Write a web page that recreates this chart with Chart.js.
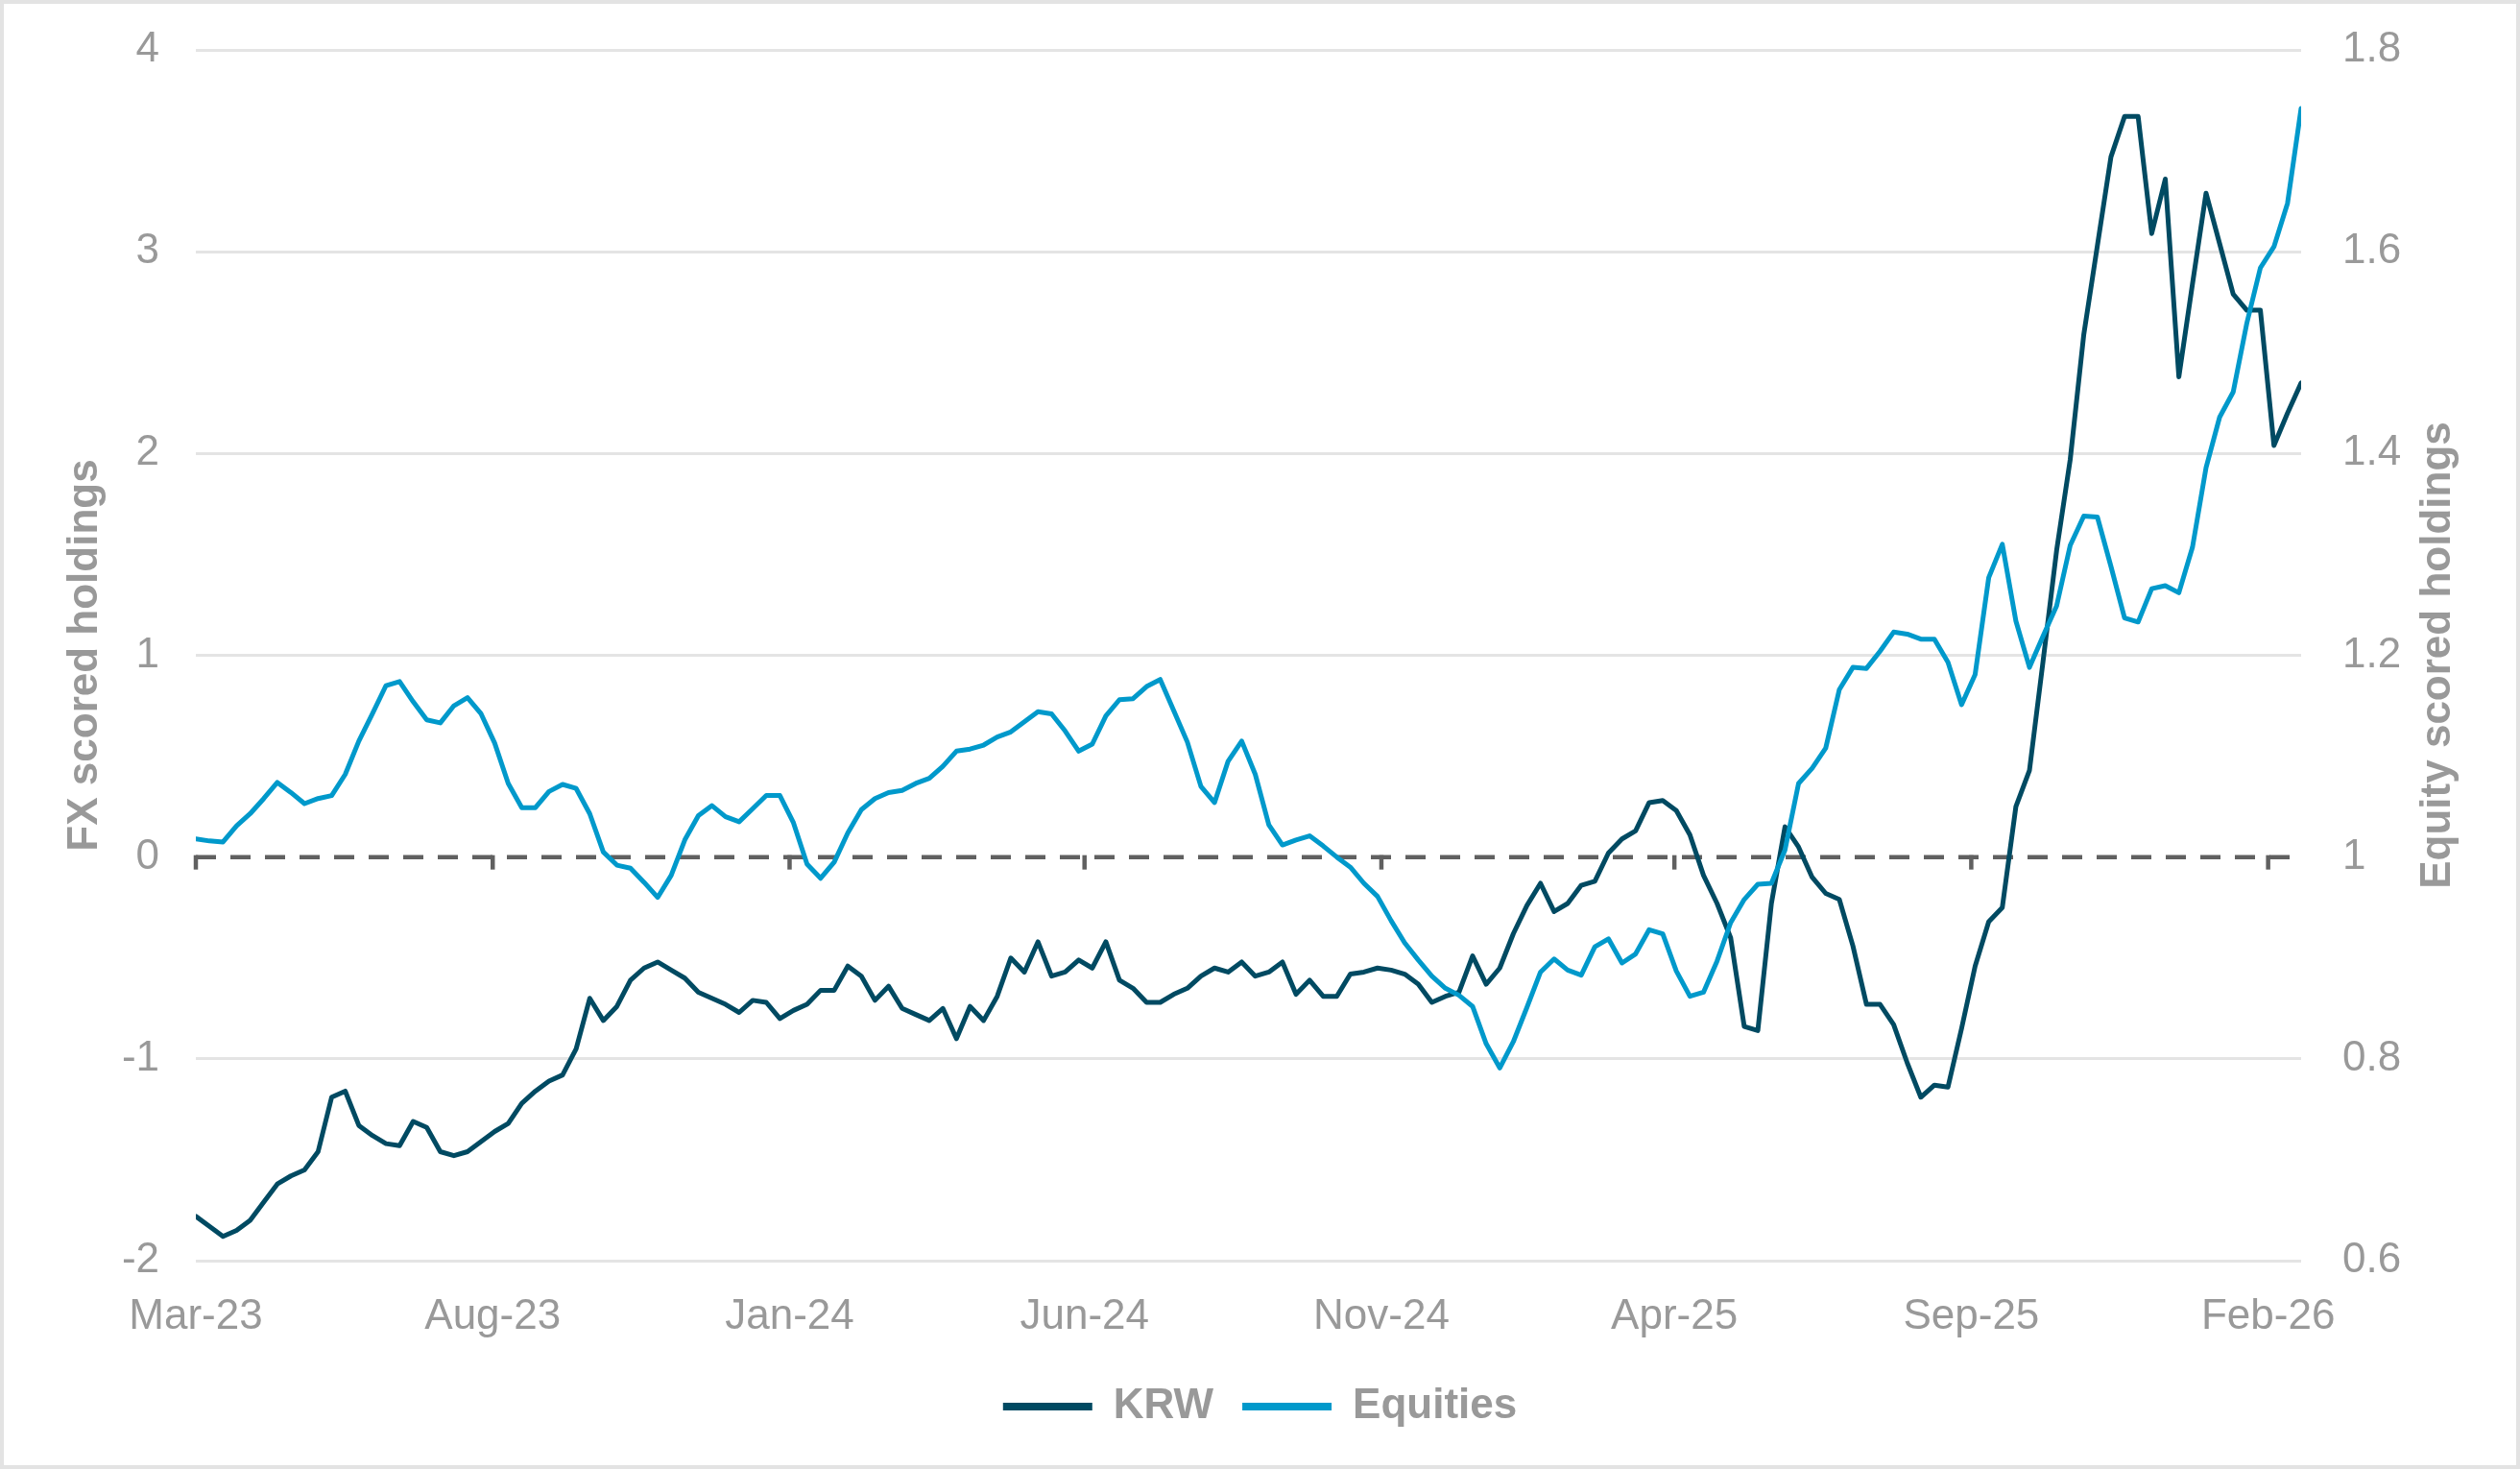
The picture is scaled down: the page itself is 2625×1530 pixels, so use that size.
<!DOCTYPE html>
<html>
<head>
<meta charset="utf-8">
<script src="https://cdn.jsdelivr.net/npm/chart.js@4.4.1/dist/chart.umd.min.js"></script>
<style>
    html, body { margin: 0; padding: 0; background: #fff; }
    #wrap { width: 2625px; height: 1530px; position: relative; }
</style>
</head>
<body>
<div id="wrap"><canvas id="chart"></canvas></div>
<script>
// --- Data (weekly, first observation 1 Mar 2023) ---

const firstWeek = "2023-03-01";

// FX scored holdings (left axis)
const krw = [
    -1.78, -1.83, -1.88, -1.85, -1.80, -1.71, -1.62, -1.58, -1.55, -1.46,
    -1.19, -1.16, -1.33, -1.38, -1.42, -1.43, -1.31, -1.34, -1.46, -1.48,
    -1.46, -1.41, -1.36, -1.32, -1.22, -1.16, -1.11, -1.08, -0.95, -0.70,
    -0.81, -0.74, -0.61, -0.55, -0.52, -0.56, -0.60, -0.67, -0.70, -0.73,
    -0.77, -0.71, -0.72, -0.80, -0.76, -0.73, -0.66, -0.66, -0.54, -0.59,
    -0.71, -0.64, -0.75, -0.78, -0.81, -0.75, -0.90, -0.74, -0.81, -0.69,
    -0.50, -0.57, -0.42, -0.59, -0.57, -0.51, -0.55, -0.42, -0.61, -0.65,
    -0.72, -0.72, -0.68, -0.65, -0.59, -0.55, -0.57, -0.52, -0.59, -0.57,
    -0.52, -0.68, -0.61, -0.69, -0.69, -0.58, -0.57, -0.55, -0.56, -0.58,
    -0.63, -0.72, -0.69, -0.67, -0.49, -0.63, -0.55, -0.38, -0.24, -0.13,
    -0.27, -0.23, -0.14, -0.12, 0.02, 0.09, 0.13, 0.27, 0.28, 0.23,
    0.11, -0.09, -0.23, -0.40, -0.84, -0.86, -0.23, 0.15, 0.05, -0.10,
    -0.18, -0.21, -0.44, -0.73, -0.73, -0.83, -1.02, -1.19, -1.13, -1.14,
    -0.85, -0.54, -0.32, -0.25, 0.25, 0.43, 0.97, 1.52, 1.97, 2.59,
    3.03, 3.47, 3.67, 3.67, 3.09, 3.36, 2.38, 2.84, 3.29, 3.04,
    2.79, 2.71, 2.71, 2.04, 2.20, 2.35
];

// Equity scored holdings (right axis)
const equities = [
    1.018, 1.016, 1.015, 1.031, 1.043, 1.058, 1.074, 1.064, 1.053, 1.058,
    1.061, 1.082, 1.115, 1.142, 1.170, 1.174, 1.154, 1.136, 1.133, 1.150,
    1.158, 1.142, 1.113, 1.073, 1.049, 1.049, 1.065, 1.072, 1.068, 1.043,
    1.005, 0.992, 0.989, 0.975, 0.960, 0.982, 1.017, 1.041, 1.051, 1.040,
    1.035, 1.048, 1.061, 1.061, 1.034, 0.993, 0.979, 0.995, 1.024, 1.047,
    1.058, 1.064, 1.066, 1.073, 1.078, 1.090, 1.105, 1.107, 1.111, 1.119,
    1.124, 1.134, 1.144, 1.142, 1.125, 1.105, 1.112, 1.140, 1.156, 1.157,
    1.169, 1.176, 1.145, 1.114, 1.070, 1.054, 1.095, 1.115, 1.082, 1.032,
    1.012, 1.017, 1.021, 1.011, 1.000, 0.990, 0.974, 0.961, 0.937, 0.915,
    0.898, 0.882, 0.870, 0.863, 0.852, 0.815, 0.791, 0.817, 0.851, 0.886,
    0.899, 0.888, 0.883, 0.911, 0.919, 0.895, 0.904, 0.928, 0.924, 0.887,
    0.862, 0.866, 0.897, 0.935, 0.958, 0.973, 0.974, 1.007, 1.073, 1.088,
    1.108, 1.166, 1.188, 1.187, 1.204, 1.223, 1.221, 1.216, 1.216, 1.193,
    1.151, 1.181, 1.277, 1.310, 1.234, 1.188, 1.219, 1.249, 1.309, 1.338,
    1.337, 1.288, 1.237, 1.233, 1.266, 1.269, 1.262, 1.307, 1.386, 1.436,
    1.461, 1.529, 1.584, 1.605, 1.648, 1.742
];

const tickDates  = ["2023-03-01", "2023-08-01", "2024-01-01", "2024-06-01",
                    "2024-11-01", "2025-04-01", "2025-09-01", "2026-02-01"];
const tickLabels = ["Mar-23", "Aug-23", "Jan-24", "Jun-24", "Nov-24", "Apr-25", "Sep-25", "Feb-26"];
const fxTicks    = [-2, -1, 0, 1, 2, 3, 4];
const eqTicks    = [0.6, 0.8, 1, 1.2, 1.4, 1.6, 1.8];

// --- Helpers ---

const DAY   = 86400000;
const t0    = Date.parse(firstWeek);
const dayOf = d => (Date.parse(d) - t0) / DAY;
const days  = krw.map((_, i) => i * 7);

const GREY = "#999999";
const FONT = '"Liberation Sans", Arial, sans-serif';

Chart.defaults.font.family = FONT;
Chart.defaults.color = GREY;

// fixed-width vertical scales with no automatic label padding
const fixWidth = w => s => {
    s.width = w;
    s.paddingTop = 0;
    s.paddingBottom = 0;
};

// white background, light frame, right-hand title reading bottom-to-top
const frame = {
    id: "frame",
    beforeDraw(chart) {
        const { ctx, width, height } = chart;
        ctx.save();
        ctx.fillStyle = "#fff";
        ctx.fillRect(0, 0, width, height);
        ctx.strokeStyle = "#e3e3e3";
        ctx.lineWidth = 4;
        ctx.strokeRect(2, 2, width - 4, height - 4);
        ctx.restore();
    },
    afterDraw(chart) {
        const { ctx, chartArea, scales } = chart;
        ctx.save();
        ctx.translate(scales.y2.right - 85, (chartArea.top + chartArea.bottom) / 2);
        ctx.rotate(-Math.PI / 2);
        ctx.font = `bold 44px ${FONT}`;
        ctx.fillStyle = GREY;
        ctx.textAlign = "center";
        ctx.textBaseline = "middle";
        ctx.fillText("Equity scored holdings", 0, 0);
        ctx.restore();
    }
};

// dashed horizontal axis at 0 with small tick marks
const zeroAxis = {
    id: "zeroAxis",
    beforeDatasetsDraw(chart) {
        const { ctx, chartArea, scales } = chart;
        const y = scales.y.getPixelForValue(0);
        ctx.save();
        ctx.strokeStyle = "#606060";
        ctx.lineWidth = 4.5;
        ctx.setLineDash([21, 15]);
        ctx.beginPath();
        ctx.moveTo(chartArea.left, y);
        ctx.lineTo(chartArea.right, y);
        ctx.stroke();
        ctx.setLineDash([]);
        tickDates.forEach(d => {
            const x = scales.x.getPixelForValue(dayOf(d));
            ctx.beginPath();
            ctx.moveTo(x, y - 2);
            ctx.lineTo(x, y + 13);
            ctx.stroke();
        });
        ctx.restore();
    }
};

// --- Chart ---

new Chart(document.getElementById("chart"), {
    type: "line",
    data: {
        datasets: [
            {
                label: "KRW",
                data: days.map((d, i) => ({ x: d, y: krw[i] })),
                yAxisID: "y",
                borderColor: "#004a62",
                backgroundColor: "#004a62",
                borderWidth: 5,
                borderJoinStyle: "round",
                borderCapStyle: "round",
                pointRadius: 0,
                tension: 0,
                order: 2
            },
            {
                label: "Equities",
                data: days.map((d, i) => ({ x: d, y: equities[i] })),
                yAxisID: "y2",
                borderColor: "#0099cb",
                backgroundColor: "#0099cb",
                borderWidth: 5,
                borderJoinStyle: "round",
                borderCapStyle: "round",
                pointRadius: 0,
                tension: 0,
                order: 1
            }
        ]
    },
    options: {
        responsive: true,
        maintainAspectRatio: false,
        animation: false,
        devicePixelRatio: 1,
        layout: { padding: { top: 52, left: 0, right: 0, bottom: 33 } },
        plugins: {
            tooltip: { enabled: false },
            legend: {
                position: "bottom",
                labels: {
                    usePointStyle: true,
                    pointStyle: "line",
                    pointStyleWidth: 93,
                    color: GREY,
                    font: { size: 44, weight: "bold" },
                    padding: 30,
                    sort: (a, b) => a.datasetIndex - b.datasetIndex,
                    generateLabels: chart => {
                        const items = Chart.defaults.plugins.legend.labels.generateLabels(chart);
                        items.forEach(it => { it.lineWidth = 8; });
                        return items;
                    }
                }
            }
        },
        scales: {
            x: {
                type: "linear",
                min: 0,
                max: days[days.length - 1],
                grid: { display: false },
                border: { display: false },
                afterBuildTicks: s => { s.ticks = tickDates.map(d => ({ value: dayOf(d) })); },
                ticks: {
                    autoSkip: false,
                    maxRotation: 0,
                    padding: 24,
                    color: GREY,
                    font: { size: 44 },
                    callback: (v, i) => tickLabels[i]
                },
                afterFit: s => { s.height = 100; }
            },
            y: {
                position: "left",
                min: -2,
                max: 4,
                afterBuildTicks: s => { s.ticks = fxTicks.map(v => ({ value: v })); },
                grid: {
                    color: c => (c.tick && c.tick.value === 0) ? "rgba(0,0,0,0)" : "#e4e4e4",
                    lineWidth: 3,
                    drawTicks: false
                },
                border: { display: false },
                ticks: { padding: 38, color: GREY, font: { size: 44 } },
                title: {
                    display: true,
                    text: "FX scored holdings",
                    color: GREY,
                    font: { size: 44, weight: "bold" },
                    padding: { top: 62, bottom: 0 }
                },
                afterFit: fixWidth(204)
            },
            y2: {
                position: "right",
                min: 0.6,
                max: 1.8,
                afterBuildTicks: s => { s.ticks = eqTicks.map(v => ({ value: v })); },
                grid: { display: false, drawTicks: false },
                border: { display: false },
                ticks: {
                    padding: 43,
                    color: GREY,
                    font: { size: 44 },
                    callback: v => String(+v.toFixed(1))
                },
                afterFit: fixWidth(228)
            }
        }
    },
    plugins: [frame, zeroAxis]
});
</script>
</body>
</html>
